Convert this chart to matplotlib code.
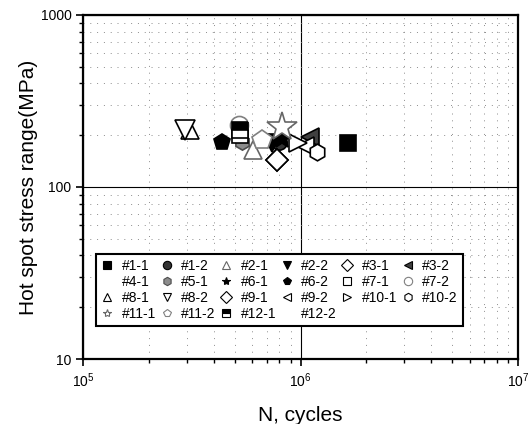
import numpy as np
import matplotlib
matplotlib.use('Agg')
import matplotlib.pyplot as plt
from matplotlib.ticker import LogLocator, NullFormatter

plt.rcParams['font.family'] = ['Liberation Sans', 'DejaVu Sans']

# specimen labels, fatigue life (cycles) and hot spot stress range (MPa)
labels = ['#1-1', '#1-2', '#2-1', '#2-2', '#3-1', '#3-2',
          '#4-1', '#5-1', '#6-1', '#6-2', '#7-1', '#7-2',
          '#8-1', '#8-2', '#9-1', '#9-2', '#10-1', '#10-2',
          '#11-1', '#11-2', '#12-1', '#12-2']
cycles = [1.65e6, 8.0e5, 6.05e5, 7.4e5, 7.8e5, 1.11e6,
          6.5e5, 5.4e5, 8.2e5, 4.36e5, 5.27e5, 5.2e5,
          3.1e5, 2.94e5, 7.8e5, 1.05e6, 9.75e5, 1.19e6,
          8.2e5, 6.65e5, 5.27e5, 6.0e5]
stress = [180, 183, 164, 180, 144, 195,
          175, 183, 190, 183, 200, 230,
          215, 214, 144, 172, 180, 160,
          223, 187, 214, 190]

# marker, face colour, edge colour, fillstyle
styles = [('s', 'k', 'k', 'full'), ('o', '0.2', 'k', 'full'), ('^', 'w', '0.4', 'full'),
          ('v', 'k', 'k', 'full'), ('D', 'w', 'k', 'full'), ('<', '0.25', 'k', 'full'),
          ('', 'w', 'w', 'full'), ('h', '0.55', '0.3', 'full'), ('*', 'k', 'k', 'full'),
          ('p', 'k', 'k', 'full'), ('s', 'w', 'k', 'full'), ('o', 'w', '0.5', 'full'),
          ('^', 'w', 'k', 'full'), ('v', 'w', 'k', 'full'), ('D', 'w', 'k', 'full'),
          ('<', 'w', 'k', 'full'), ('>', 'w', 'k', 'full'), ('h', 'w', 'k', 'full'),
          ('*', 'w', '0.4', 'full'), ('p', 'w', '0.5', 'full'), ('s', 'k', 'k', 'top'),
          ('', 'w', 'w', 'full')]
sizes = [12, 11, 13, 13, 11, 13, 1, 11, 14, 12, 11, 13,
         13, 14, 11, 13, 13, 12, 22, 15, 11, 1]

fig = plt.figure(figsize=(5.30, 4.24), dpi=100)
ax = fig.add_axes([0.157, 0.153, 0.82, 0.812])

handles = []
for i in range(len(labels)):
    m, fc, ec, fs = styles[i]
    ax.plot(cycles[i], stress[i], linestyle='none', marker=m, markersize=sizes[i],
            markerfacecolor=fc, markeredgecolor=ec, fillstyle=fs,
            markerfacecoloralt='w', markeredgewidth=1.2, zorder=3)
    h, = ax.plot([], [], linestyle='none', marker=m, markersize=6,
                 markerfacecolor=fc, markeredgecolor=ec, fillstyle=fs,
                 markerfacecoloralt='w', markeredgewidth=0.8)
    handles.append(h)

ax.set_xscale('log')
ax.set_yscale('log')
ax.set_xlim(1e5, 1e7)
ax.set_ylim(10, 1000)
ax.yaxis.set_major_locator(LogLocator(base=10))
ax.yaxis.set_major_formatter(plt.FuncFormatter(lambda v, p: '%d' % v))
ax.yaxis.set_minor_formatter(NullFormatter())
ax.xaxis.set_minor_formatter(NullFormatter())

ax.grid(True, which='major', color='k', linewidth=0.8)
ax.grid(True, which='minor', color='0.55', linestyle=(0, (1, 6)), linewidth=0.7)
ax.set_axisbelow(True)

for s in ax.spines.values():
    s.set_linewidth(1.6)
ax.tick_params(which='major', direction='out', length=5, width=1.2, labelsize=10)
ax.tick_params(which='minor', direction='out', length=3, width=1.0)

ax.set_xlabel('N, cycles', fontsize=15, labelpad=12)
ax.set_ylabel('Hot spot stress range(MPa)', fontsize=15, labelpad=2)

# legend rows are filled left to right, matplotlib fills by columns
ncol = 6
nrow = 4
order = []
for c in range(ncol):
    for r in range(nrow):
        k = r * ncol + c
        if k < len(labels):
            order.append(k)
leg = ax.legend([handles[k] for k in order], [labels[k] for k in order],
                ncol=ncol, loc='lower left', bbox_to_anchor=(0.03, 0.096),
                borderaxespad=0, fontsize=10, frameon=True, fancybox=False,
                edgecolor='k', handlelength=0.9, handletextpad=0.6,
                columnspacing=0.3, labelspacing=0.15, borderpad=0.35)
leg.get_frame().set_linewidth(1.5)
leg.get_frame().set_alpha(1)

fig.savefig('out.png', dpi=100)
